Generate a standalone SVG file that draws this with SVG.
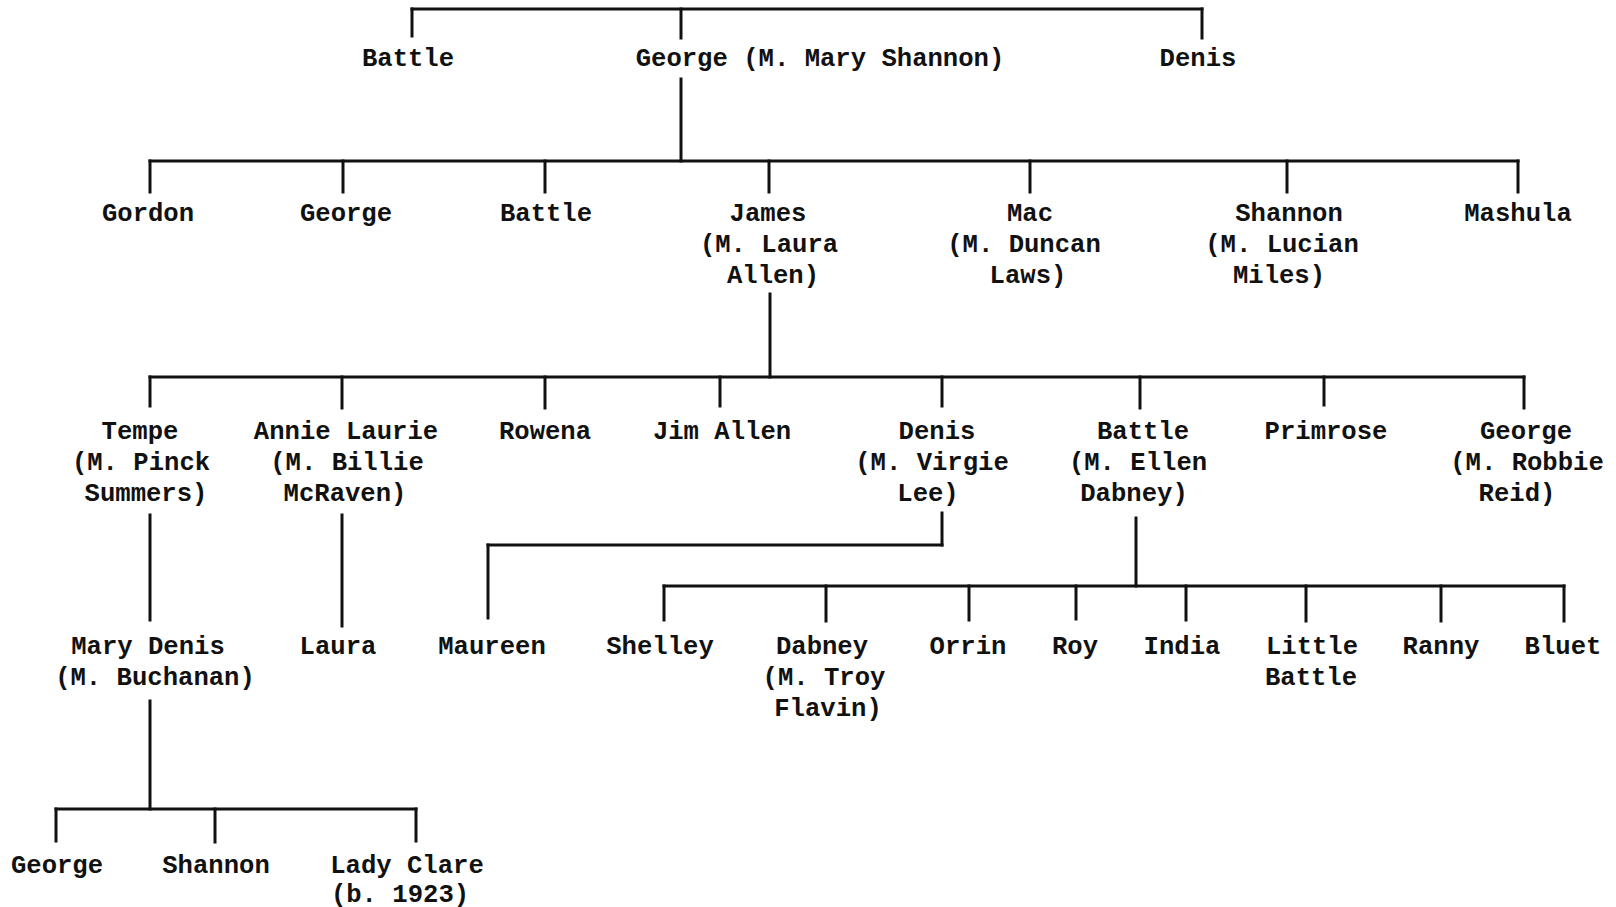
<svg xmlns="http://www.w3.org/2000/svg" width="1616" height="907" viewBox="0 0 1616 907">
<style>
text{font-family:"Liberation Mono","Courier New",monospace;font-size:25.6px;font-weight:bold;fill:#111;text-anchor:middle}
.c line{stroke:#111;stroke-width:3;stroke-linecap:square}
</style>
<rect width="1616" height="907" fill="#fff"/>
<g id="connectors" class="c">
<line x1="412" y1="9" x2="1202" y2="9"/>
<line x1="412" y1="9" x2="412" y2="36"/>
<line x1="681" y1="9" x2="681" y2="38"/>
<line x1="1202" y1="9" x2="1202" y2="38"/>
<line x1="681" y1="79" x2="681" y2="161"/>
<line x1="150" y1="161" x2="1518" y2="161"/>
<line x1="150" y1="161" x2="150" y2="192"/>
<line x1="343" y1="161" x2="343" y2="192"/>
<line x1="545" y1="161" x2="545" y2="192"/>
<line x1="769" y1="161" x2="769" y2="192"/>
<line x1="1030" y1="161" x2="1030" y2="192"/>
<line x1="1287" y1="161" x2="1287" y2="192"/>
<line x1="1518" y1="161" x2="1518" y2="192"/>
<line x1="770" y1="294" x2="770" y2="377"/>
<line x1="150" y1="377" x2="1524" y2="377"/>
<line x1="150" y1="377" x2="150" y2="406"/>
<line x1="342" y1="377" x2="342" y2="408"/>
<line x1="545" y1="377" x2="545" y2="408"/>
<line x1="720" y1="377" x2="720" y2="406"/>
<line x1="942" y1="377" x2="942" y2="406"/>
<line x1="1140" y1="377" x2="1140" y2="408"/>
<line x1="1324" y1="377" x2="1324" y2="405"/>
<line x1="1524" y1="377" x2="1524" y2="408"/>
<line x1="150" y1="515" x2="150" y2="620"/>
<line x1="342" y1="515" x2="342" y2="626"/>
<line x1="942" y1="513" x2="942" y2="545"/>
<line x1="488" y1="545" x2="942" y2="545"/>
<line x1="488" y1="545" x2="488" y2="618"/>
<line x1="1136" y1="518" x2="1136" y2="586"/>
<line x1="664" y1="586" x2="1564" y2="586"/>
<line x1="664" y1="586" x2="664" y2="620"/>
<line x1="826" y1="586" x2="826" y2="621"/>
<line x1="969" y1="586" x2="969" y2="620"/>
<line x1="1076" y1="586" x2="1076" y2="619"/>
<line x1="1186" y1="586" x2="1186" y2="620"/>
<line x1="1306" y1="586" x2="1306" y2="621"/>
<line x1="1441" y1="586" x2="1441" y2="621"/>
<line x1="1564" y1="586" x2="1564" y2="621"/>
<line x1="150" y1="701" x2="150" y2="809"/>
<line x1="56" y1="809" x2="416" y2="809"/>
<line x1="56" y1="809" x2="56" y2="841"/>
<line x1="215" y1="809" x2="215" y2="842"/>
<line x1="416" y1="809" x2="416" y2="841"/>
</g>
<g id="n-battle0"><text x="408" y="66">Battle</text></g>
<g id="n-george0"><text x="820" y="66">George (M. Mary Shannon)</text></g>
<g id="n-denis0"><text x="1198" y="66">Denis</text></g>
<g id="n-gordon"><text x="148" y="221">Gordon</text></g>
<g id="n-george1"><text x="346" y="221">George</text></g>
<g id="n-battle1"><text x="546" y="221">Battle</text></g>
<g id="n-james"><text x="768" y="221">James</text><text x="769" y="252">(M. Laura</text><text x="773" y="283">Allen)</text></g>
<g id="n-mac"><text x="1030" y="221">Mac</text><text x="1024" y="252">(M. Duncan</text><text x="1028" y="283">Laws)</text></g>
<g id="n-shannon1"><text x="1289" y="221">Shannon</text><text x="1282" y="252">(M. Lucian</text><text x="1279" y="283">Miles)</text></g>
<g id="n-mashula"><text x="1518" y="221">Mashula</text></g>
<g id="n-tempe"><text x="140" y="439">Tempe</text><text x="141" y="470">(M. Pinck</text><text x="146" y="501">Summers)</text></g>
<g id="n-annie"><text x="346" y="439">Annie Laurie</text><text x="347" y="470">(M. Billie</text><text x="345" y="501">McRaven)</text></g>
<g id="n-rowena"><text x="545" y="439">Rowena</text></g>
<g id="n-jimallen"><text x="722" y="439">Jim Allen</text></g>
<g id="n-denis2"><text x="937" y="439">Denis</text><text x="932" y="470">(M. Virgie</text><text x="928" y="501">Lee)</text></g>
<g id="n-battle2"><text x="1143" y="439">Battle</text><text x="1138" y="470">(M. Ellen</text><text x="1134" y="501">Dabney)</text></g>
<g id="n-primrose"><text x="1326" y="439">Primrose</text></g>
<g id="n-george2"><text x="1526" y="439">George</text><text x="1527" y="470">(M. Robbie</text><text x="1517" y="501">Reid)</text></g>
<g id="n-marydenis"><text x="148" y="654">Mary Denis</text><text x="155" y="685">(M. Buchanan)</text></g>
<g id="n-laura"><text x="338" y="654">Laura</text></g>
<g id="n-maureen"><text x="492" y="654">Maureen</text></g>
<g id="n-shelley"><text x="660" y="654">Shelley</text></g>
<g id="n-dabney"><text x="822" y="654">Dabney</text><text x="824" y="685">(M. Troy</text><text x="828" y="716">Flavin)</text></g>
<g id="n-orrin"><text x="968" y="654">Orrin</text></g>
<g id="n-roy"><text x="1075" y="654">Roy</text></g>
<g id="n-india"><text x="1182" y="654">India</text></g>
<g id="n-littlebattle"><text x="1312" y="654">Little</text><text x="1311" y="685">Battle</text></g>
<g id="n-ranny"><text x="1441" y="654">Ranny</text></g>
<g id="n-bluet"><text x="1563" y="654">Bluet</text></g>
<g id="n-george3"><text x="57" y="873">George</text></g>
<g id="n-shannon3"><text x="216" y="873">Shannon</text></g>
<g id="n-ladyclare"><text x="407" y="873">Lady Clare</text><text x="400" y="902">(b. 1923)</text></g>
</svg>
